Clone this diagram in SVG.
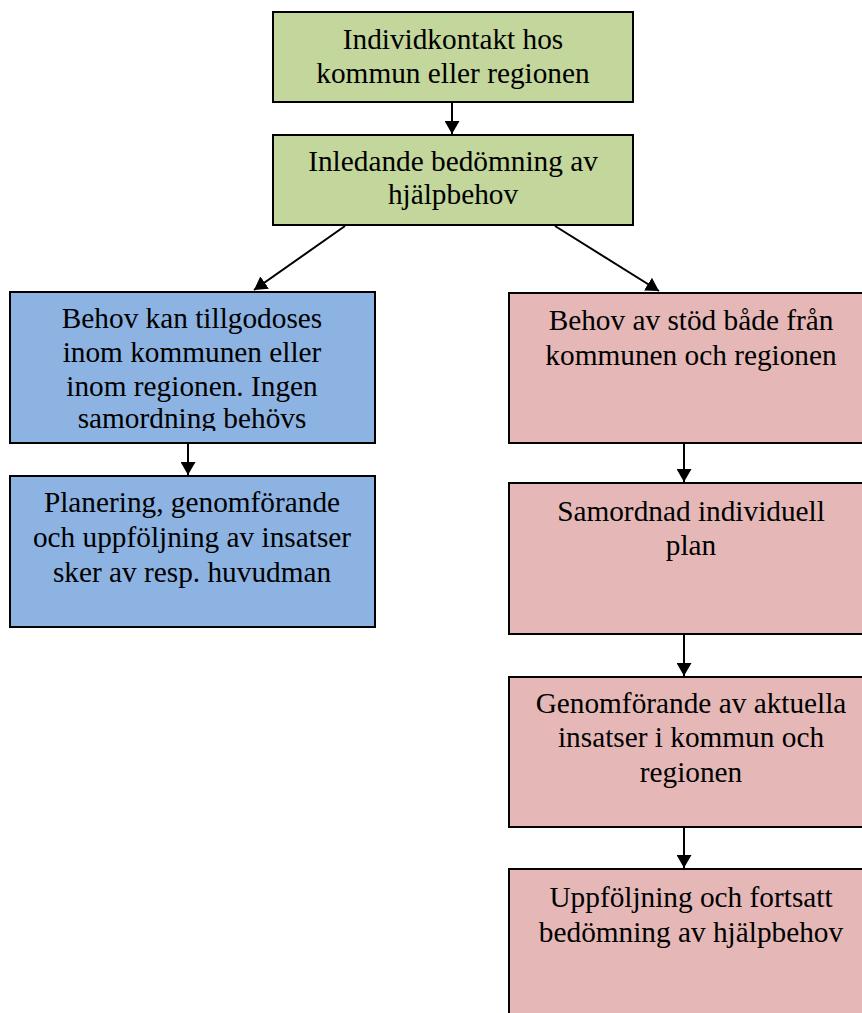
<svg xmlns="http://www.w3.org/2000/svg" width="862" height="1013" viewBox="0 0 862 1013">
<style>
.box{stroke:#000;stroke-width:2}
.g{fill:#C3D69B}
.b{fill:#8DB3E2}
.p{fill:#E5B8B7}
text{font-family:"Liberation Serif","Times New Roman",serif;font-size:29.3px;fill:#000;text-anchor:middle}
.c{stroke:#000;stroke-width:2;fill:none;marker-end:url(#ah)}
</style>
<defs>
<marker id="ah" viewBox="0 0 13 15" refX="13" refY="7.5" markerWidth="13" markerHeight="15" markerUnits="userSpaceOnUse" orient="auto">
<path d="M0,0 L13,7.5 L0,15 Z" fill="#000"/>
</marker>
<clipPath id="clipb1"><rect x="10" y="292" width="366" height="139"/></clipPath>
</defs>
<rect width="862" height="1013" fill="#fff"/>
<g id="connectors">
<line class="c" x1="452" y1="103" x2="452" y2="134"/>
<line class="c" x1="345" y1="226" x2="254" y2="290"/>
<line class="c" x1="555" y1="226" x2="659" y2="291"/>
<line class="c" x1="188" y1="443" x2="188" y2="475"/>
<line class="c" x1="684" y1="443" x2="684" y2="482"/>
<line class="c" x1="684" y1="634" x2="684" y2="676"/>
<line class="c" x1="684" y1="827" x2="684" y2="868"/>
</g>
<g id="n1">
<rect class="box g" x="273" y="12" width="360" height="90"/>
<text x="453" y="49">Individkontakt hos</text>
<text x="453" y="83">kommun eller regionen</text>
</g>
<g id="n2">
<rect class="box g" x="273" y="135" width="360" height="90"/>
<text x="453" y="171">Inledande bedömning av</text>
<text x="453" y="204">hjälpbehov</text>
</g>
<g id="n3">
<rect class="box b" x="10" y="292" width="365" height="151"/>
<g clip-path="url(#clipb1)">
<text x="192" y="328">Behov kan tillgodoses</text>
<text x="192" y="362">inom kommunen eller</text>
<text x="192" y="396">inom regionen. Ingen</text>
<text x="192" y="428">samordning behövs</text>
</g>
</g>
<g id="n4">
<rect class="box b" x="10" y="476" width="365" height="151"/>
<text x="192" y="512">Planering, genomförande</text>
<text x="192" y="547">och uppföljning av insatser</text>
<text x="192" y="582">sker av resp. huvudman</text>
</g>
<g id="n5">
<rect class="box p" x="509" y="293" width="365" height="150"/>
<text x="691" y="330">Behov av stöd både från</text>
<text x="691" y="365">kommunen och regionen</text>
</g>
<g id="n6">
<rect class="box p" x="509" y="483" width="365" height="151"/>
<text x="691" y="521">Samordnad individuell</text>
<text x="691" y="555">plan</text>
</g>
<g id="n7">
<rect class="box p" x="509" y="677" width="365" height="150"/>
<text x="691" y="713">Genomförande av aktuella</text>
<text x="691" y="747">insatser i kommun och</text>
<text x="691" y="782">regionen</text>
</g>
<g id="n8">
<rect class="box p" x="509" y="869" width="365" height="160"/>
<text x="691" y="907">Uppföljning och fortsatt</text>
<text x="691" y="942">bedömning av hjälpbehov</text>
</g>
</svg>
